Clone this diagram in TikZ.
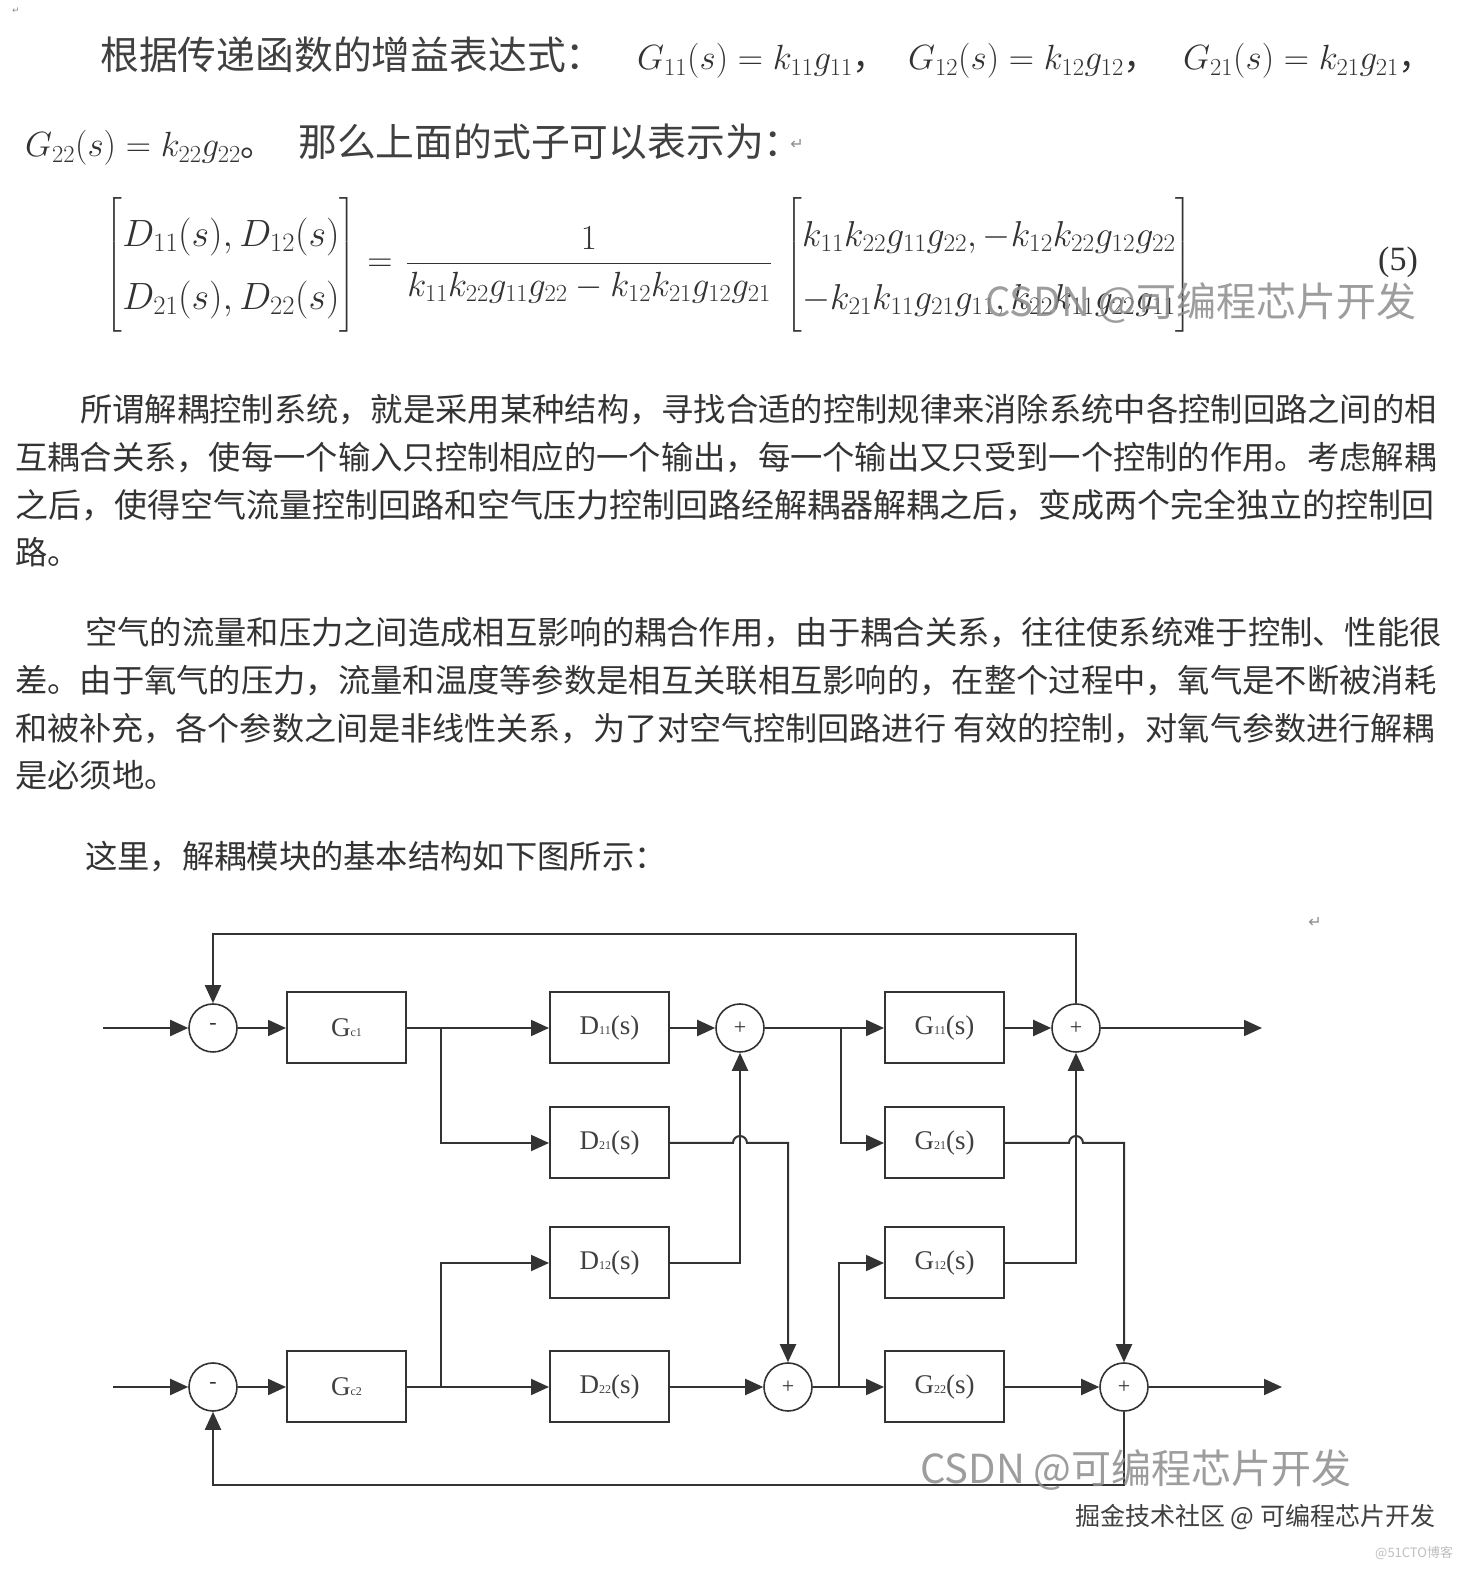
\RequirePackage{fix-cm}
\documentclass[tikz,border=0pt]{standalone}
\usepackage{amsmath}
\usepackage{fontspec}
\usetikzlibrary{arrows.meta,positioning,calc}
\newfontfamily\cjk{Noto Sans CJK SC}
\newfontfamily\diagfont{Liberation Serif}
\newfontfamily\symfont{DejaVu Sans}
\newcommand{\fsz}[1]{\fontsize{#1}{#1}\selectfont}
\newcommand{\tfl}[2]{#1{\fsz{12}#2}(s)}

\begin{document}
\begin{tikzpicture}[x=1pt, y=1pt,
  blk/.style={draw=black!80, line width=2pt, minimum width=119pt, minimum height=71pt, inner sep=0pt, font=\diagfont\fsz{27}, text=black!75},
  sumc/.style={draw=black!80, line width=1.6pt, circle, minimum size=48pt, inner sep=0pt, font=\diagfont\fsz{22}, text=black!80},
  arr/.style={-{Triangle[length=18pt,width=16pt]}, line width=2pt, draw=black!80},
  hd/.style={anchor=base west, inner sep=0pt, font=\cjk\fsz{38.8}, text=black!75},
  mth/.style={anchor=base west, inner sep=0pt, font=\fsz{35}, text=black!80},
  eqn/.style={inner sep=0pt, font=\fontsize{35}{63}\selectfont, text=black!80},
  para/.style={anchor=base west, inner sep=0pt, font=\cjk\fsz{32.3}, text=black!80},
  wm/.style={anchor=west, inner sep=0pt, font=\cjk\fsz{40}, text=black!45, opacity=0.85},
  pm/.style={inner sep=0pt, font=\symfont\fsz{16}, text=black!45}
]
\fill[white] (0,0) rectangle (1473,1571);

% text above the diagram
\node[pm, font=\symfont\fsz{9}] (r0) at (16,1560) {↵};
\node[hd] (t1) at (100,1501) {根据传递函数的增益表达式：};
\node[mth] (m1) at (637,1501) {$G_{11}(s)=k_{11}g_{11}$\cjk，};
\node[mth] (m2) at (908,1501) {$G_{12}(s)=k_{12}g_{12}$\cjk，};
\node[mth] (m3) at (1183,1501) {$G_{21}(s)=k_{21}g_{21}$\cjk，};
\node[mth] (m4) at (25,1414) {$G_{22}(s)=k_{22}g_{22}$\cjk。};
\node[hd] (t2) at (298,1414) {那么上面的式子可以表示为：};
\node[pm] (r1) at (797,1426) {↵};

\node[eqn, font=\fontsize{38}{63}\selectfont] (lm) at (231,1306) {$\begin{bmatrix} D_{11}(s),D_{12}(s)\\ D_{21}(s),D_{22}(s)\end{bmatrix}$};
\node[eqn] (eq) at (380,1306) {$=$};
\node[eqn] (fr) at (589,1306) {$\dfrac{1}{k_{11}k_{22}g_{11}g_{22}-k_{12}k_{21}g_{12}g_{21}}$};
\node[eqn, font=\fontsize{36}{63}\selectfont] (rm) at (989,1306) {$\begin{bmatrix} k_{11}k_{22}g_{11}g_{22},-k_{12}k_{22}g_{12}g_{22}\\ -k_{21}k_{11}g_{21}g_{11},k_{22}k_{11}g_{22}g_{11}\end{bmatrix}$};
\node[eqn, font=\diagfont\fsz{34}] (no) at (1398,1309) {(5)};

\node[para] (p1a) at (80,1149) {所谓解耦控制系统，就是采用某种结构，寻找合适的控制规律来消除系统中各控制回路之间的相};
\node[para] (p1b) at (15,1101) {互耦合关系，使每一个输入只控制相应的一个输出，每一个输出又只受到一个控制的作用。考虑解耦};
\node[para, font=\cjk\fsz{33}] (p1c) at (15,1053) {之后，使得空气流量控制回路和空气压力控制回路经解耦器解耦之后，变成两个完全独立的控制回};
\node[para] (p1d) at (15,1006) {路。};
\node[para] (p2a) at (85,926) {空气的流量和压力之间造成相互影响的耦合作用，由于耦合关系，往往使系统难于控制、性能很};
\node[para] (p2b) at (15,878) {差。由于氧气的压力，流量和温度等参数是相互关联相互影响的，在整个过程中，氧气是不断被消耗};
\node[para, font=\cjk\fsz{32.1}] (p2c) at (15,830) {和被补充，各个参数之间是非线性关系，为了对空气控制回路进行 有效的控制，对氧气参数进行解耦};
\node[para] (p2d) at (15,783) {是必须地。};
\node[para] (p3) at (85,702) {这里，解耦模块的基本结构如下图所示：};
\node[pm] (r2) at (1315,649) {↵};

% decoupling block diagram
\node[sumc] (e1) at (213,543) {\raisebox{2pt}{-}};
\node[blk, right=48.2pt of e1] (gc1) {G{\fsz{12}c1}};
\node[blk, right=142pt of gc1] (d11) {\tfl{D}{11}};
\node[sumc, right=45.2pt of d11] (s1) {+};
\node[blk, right=119.2pt of s1] (g11) {\tfl{G}{11}};
\node[sumc, right=46.2pt of g11] (s2) {+};
\node[blk, below=42pt of d11] (d21) {\tfl{D}{21}};
\node[blk, below=42pt of g11] (g21) {\tfl{G}{21}};

\node[sumc] (e2) at (213,184) {\raisebox{2pt}{-}};
\node[blk, right=48.2pt of e2] (gc2) {G{\fsz{12}c2}};
\node[blk, right=142pt of gc2] (d22) {\tfl{D}{22}};
\node[sumc, right=93.2pt of d22] (s3) {+};
\node[blk, right=71.2pt of s3] (g22) {\tfl{G}{22}};
\node[sumc, right=94.2pt of g22] (s4) {+};
\node[blk, above=51pt of d22] (d12) {\tfl{D}{12}};
\node[blk, above=51pt of g22] (g12) {\tfl{G}{12}};

\coordinate (in1) at (103,543);
\coordinate (in2) at (113,184);
\coordinate (out1) at (1262,543);
\coordinate (out2) at (1282,184);
\coordinate (b1) at ($(gc1.east)+(34,0)$);
\coordinate (b2) at ($(s1.east)+(76,0)$);
\coordinate (b3) at ($(gc2.east)+(34,0)$);
\coordinate (b4) at ($(s3.east)+(26,0)$);

\draw[arr] (in1) -- (e1);
\draw[arr] (e1) -- (gc1);
\draw[arr] (gc1) -- (d11);
\draw[arr] (b1) |- (d21);
\draw[arr] (d11) -- (s1);
\draw[arr] (s1) -- (g11);
\draw[arr] (b2) |- (g21);
\draw[arr] (g11) -- (s2);
\draw[arr] (s2) -- (out1);
\draw[arr] (s2.north) -- ++(0,69) -| (e1.north);

\draw[arr] (in2) -- (e2);
\draw[arr] (e2) -- (gc2);
\draw[arr] (gc2) -- (d22);
\draw[arr] (b3) |- (d12);
\draw[arr] (d22) -- (s3);
\draw[arr] (s3) -- (g22);
\draw[arr] (b4) |- (g12);
\draw[arr] (g22) -- (s4);
\draw[arr] (s4) -- (out2);
\draw[arr] (s4.south) -- ++(0,-73) -| (e2.south);

% cross couplings, with hops over the verticals
\draw[arr] (d12.east) -| (s1);
\draw[arr] (g12.east) -| (s2);
\draw[arr] (d21.east) -- ($(d21.east -| s1)+(-7,0)$) arc[start angle=180, end angle=0, radius=7pt] -- (d21.east -| s3) -- (s3);
\draw[arr] (g21.east) -- ($(g21.east -| s2)+(-7,0)$) arc[start angle=180, end angle=0, radius=7pt] -- (g21.east -| s4) -- (s4);

% watermarks
\node[wm] (w1) at (985,1268) {CSDN @可编程芯片开发};
\node[wm] (w2) at (920,101) {CSDN @可编程芯片开发};
\node[anchor=west, inner sep=0pt, font=\cjk\fsz{25}, text=black!75] (w3) at (1075,54) {掘金技术社区 @ 可编程芯片开发};
\node[anchor=west, inner sep=0pt, font=\cjk\fsz{13}, text=black!25] (w4) at (1375,18) {@51CTO博客};
\end{tikzpicture}
\end{document}
